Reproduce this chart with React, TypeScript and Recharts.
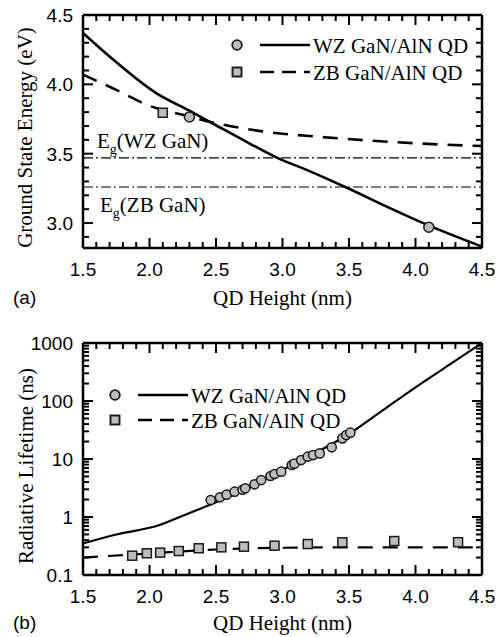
import React from 'react';
import {
  ComposedChart,
  Line,
  Scatter,
  XAxis,
  YAxis,
  ReferenceLine,
  Legend,
} from 'recharts';

// ---------- data ----------
const heightTicks = [1.5, 1.6, 1.7, 1.8, 1.9, 2.0, 2.1, 2.2, 2.3, 2.4, 2.5, 2.6, 2.7, 2.8, 2.9, 3.0, 3.1, 3.2, 3.3, 3.4, 3.5, 3.6, 3.7, 3.8, 3.9, 4.0, 4.1, 4.2, 4.3, 4.4, 4.5];
const heightMajor = [1.5, 2.0, 2.5, 3.0, 3.5, 4.0, 4.5];
const heightDomain = [1.5, 4.5];

const energyTicks = [2.9, 3.0, 3.1, 3.2, 3.3, 3.4, 3.5, 3.6, 3.7, 3.8, 3.9, 4.0, 4.1, 4.2, 4.3, 4.4, 4.5];
const energyMajor = [3.0, 3.5, 4.0, 4.5];
const energyDomain = [2.82, 4.5];

const lifetimeTicks = [0.1, 0.2, 0.3, 0.4, 0.5, 0.6, 0.7, 0.8, 0.9, 1, 2, 3, 4, 5, 6, 7, 8, 9, 10, 20, 30, 40, 50, 60, 70, 80, 90, 100, 200, 300, 400, 500, 600, 700, 800, 900, 1000];
const lifetimeMajor = [0.1, 1, 10, 100, 1000];
const lifetimeDomain = [0.1, 1000];

const wzEnergyH = [1.5, 1.7, 2.05, 2.3, 2.5, 2.75, 2.96, 3.19, 3.48, 3.78, 4.08, 4.5];
const wzEnergyE = [4.37, 4.2, 3.937, 3.81, 3.705, 3.575, 3.47, 3.38, 3.256, 3.12, 2.99, 2.83];
const zbEnergyH = [1.5, 1.75, 2.0, 2.25, 2.5, 2.9, 3.3, 3.66, 4.0, 4.5];
const zbEnergyE = [4.07, 3.96, 3.845, 3.78, 3.72, 3.655, 3.62, 3.594, 3.575, 3.555];
const wzEnergyExpH = [2.3, 4.1];
const wzEnergyExpE = [3.765, 2.97];
const zbEnergyExpH = [2.1];
const zbEnergyExpE = [3.795];
const egWz = 3.47;
const egZb = 3.26;

const wzLifeH = [1.5, 1.75, 2.07, 2.25, 2.5, 2.75, 3.0, 3.25, 3.5, 3.75, 4.0, 4.25, 4.5];
const wzLifeT = [0.35, 0.5, 0.72, 1.05, 1.8, 3.2, 6.5, 12.8, 27, 68, 172, 415, 1000];
const zbLifeH = [1.5, 2.0, 2.5, 3.0, 3.5, 4.0, 4.5];
const zbLifeT = [0.2, 0.235, 0.275, 0.295, 0.3, 0.3, 0.3];
const wzLifeExpH = [2.46, 2.53, 2.58, 2.64, 2.7, 2.72, 2.79, 2.84, 2.91, 2.94, 2.99, 3.07, 3.09, 3.14, 3.19, 3.23, 3.28, 3.37, 3.45, 3.48, 3.51];
const wzLifeExpT = [1.96, 2.19, 2.43, 2.73, 2.95, 3.12, 3.66, 4.34, 5.09, 5.51, 6.04, 7.88, 8.3, 9.6, 10.96, 11.7, 12.5, 15.9, 22.7, 25.9, 28.4];
const zbLifeExpH = [1.87, 1.98, 2.08, 2.22, 2.37, 2.54, 2.71, 2.94, 3.19, 3.45, 3.84, 4.32];
const zbLifeExpT = [0.215, 0.237, 0.243, 0.259, 0.289, 0.3, 0.308, 0.32, 0.342, 0.366, 0.385, 0.368];

const zip = (xs: number[], ys: number[]) => xs.map((x, i) => ({ x, y: ys[i] }));

// ---------- style ----------
const SERIF = '"Liberation Serif", "Times New Roman", serif';
const SANS = '"Liberation Sans", Arial, sans-serif';
const MARKER_FILL = '#bdbdbd';
const MARKER_STROKE = '#1a1a1a';
const TICK = '#000';
const W = 504;
const YW = 60;
const XH = 50;

const isIn = (arr: number[], v: number) => arr.some((m) => Math.abs(m - v) < 1e-6);

function makeXTick(plotTop: number, plotBottom: number) {
  return (props: any) => {
    const { x, payload } = props;
    const v = payload.value;
    const major = isIn(heightMajor, v);
    const len = major ? 10 : 6;
    return (
      <g>
        <line x1={x} x2={x} y1={plotBottom} y2={plotBottom - len} stroke={TICK} strokeWidth={2} />
        <line x1={x} x2={x} y1={plotTop} y2={plotTop + len} stroke={TICK} strokeWidth={2} />
        {major && (
          <text x={x} y={plotBottom + 21} dy="0.36em" textAnchor="middle" fontFamily={SANS} fontSize={19} fill="#000">
            {v.toFixed(1)}
          </text>
        )}
      </g>
    );
  };
}

function makeYTick(plotLeft: number, plotRight: number, majors: number[], fmt: (v: number) => string) {
  return (props: any) => {
    const { y, payload } = props;
    const v = payload.value;
    const major = isIn(majors, v);
    const len = major ? 10 : 6;
    return (
      <g>
        <line x1={plotLeft} x2={plotLeft + len} y1={y} y2={y} stroke={TICK} strokeWidth={2} />
        <line x1={plotRight} x2={plotRight - len} y1={y} y2={y} stroke={TICK} strokeWidth={2} />
        {major && (
          <text x={plotLeft - 10} y={y} dy="0.36em" textAnchor="end" fontFamily={SANS} fontSize={19} fill="#000">
            {fmt(v)}
          </text>
        )}
      </g>
    );
  };
}

const circleShape = (r: number) => (p: any) => (
  <circle cx={p.cx} cy={p.cy} r={r} fill={MARKER_FILL} stroke={MARKER_STROKE} strokeWidth={1.5} />
);
const squareShape = (s: number) => (p: any) => (
  <rect x={p.cx - s / 2} y={p.cy - s / 2} width={s} height={s} fill={MARKER_FILL} stroke={MARKER_STROKE} strokeWidth={1.5} />
);

function LegendBox({ rowGap }: { rowGap: number }) {
  const y1 = 15;
  const y2 = 15 + rowGap;
  return (
    <svg width={260} height={60} style={{ display: 'block', overflow: 'visible' }}>
      <circle cx={9} cy={y1} r={4.8} fill={MARKER_FILL} stroke={MARKER_STROKE} strokeWidth={1.8} />
      <line x1={32} x2={82} y1={y1} y2={y1} stroke="#000" strokeWidth={2.5} />
      <text x={85} y={y1} dy="0.36em" fontFamily={SERIF} fontSize={21} fill="#000">WZ GaN/AlN QD</text>
      <rect x={4.5} y={y2 - 4.5} width={9} height={9} fill={MARKER_FILL} stroke={MARKER_STROKE} strokeWidth={1.9} />
      <line x1={32} x2={82} y1={y2} y2={y2} stroke="#000" strokeWidth={2.5} strokeDasharray="14 8" />
      <text x={85} y={y2} dy="0.36em" fontFamily={SERIF} fontSize={21} fill="#000">ZB GaN/AlN QD</text>
    </svg>
  );
}

const xTitle = (panel: string, dyTitle: number) => (props: any) => {
  const vb = props.viewBox || {};
  const cx = vb.x + vb.width / 2;
  const y = vb.y + dyTitle;
  return (
    <g>
      <text x={cx} y={y} dy="0.36em" textAnchor="middle" fontFamily={SERIF} fontSize={21} fill="#000">QD Height (nm)</text>
      <text x={13} y={y} dy="0.36em" fontFamily={SANS} fontSize={19} fill="#000">{panel}</text>
    </g>
  );
};

const yTitle = (title: string, cxAbs: number, shift: number) => (props: any) => {
  const vb = props.viewBox || {};
  const cy = vb.y + vb.height / 2 + shift;
  return (
    <text x={cxAbs} y={cy} dy="0.36em" textAnchor="middle" fontFamily={SERIF} fontSize={21} fill="#000" transform={`rotate(-90 ${cxAbs} ${cy})`}>
      {title}
    </text>
  );
};

const egLabel = (name: string, dx: number, dy: number) => (props: any) => {
  const vb = props.viewBox || {};
  const x = vb.x + dx;
  const y = vb.y + dy;
  return (
    <text x={x} y={y} fontFamily={SERIF} fontSize={21} fill="#000">
      <tspan>E</tspan>
      <tspan dy={6} fontSize={14}>g</tspan>
      <tspan dy={-6}>{`(${name})`}</tspan>
    </text>
  );
};

const frame = (xd: number[], yd: number[]) => [
  <ReferenceLine key="fl" x={xd[0]} stroke="#000" strokeWidth={2.5} />,
  <ReferenceLine key="fr" x={xd[1]} stroke="#000" strokeWidth={2.5} />,
  <ReferenceLine key="fb" y={yd[0]} stroke="#000" strokeWidth={2.5} />,
  <ReferenceLine key="ft" y={yd[1]} stroke="#000" strokeWidth={2.5} />,
];

function EnergyChart() {
  const H = 320;
  const margin = { top: 15, right: 22, bottom: 22, left: 83 - YW };
  const plotTop = margin.top;
  const plotBottom = H - margin.bottom - XH;
  const plotLeft = margin.left + YW;
  const plotRight = W - margin.right;
  return (
    <ComposedChart width={W} height={H} margin={margin}>
      <XAxis
        type="number"
        dataKey="x"
        domain={heightDomain}
        ticks={heightTicks}
        interval={0}
        allowDataOverflow
        height={XH}
        tickSize={0}
        tickLine={false}
        axisLine={false}
        tick={makeXTick(plotTop, plotBottom)}
        label={xTitle('(a)', 49)}
      />
      <YAxis
        type="number"
        dataKey="y"
        domain={energyDomain}
        ticks={energyTicks}
        interval={0}
        allowDataOverflow
        width={YW}
        tickSize={0}
        tickLine={false}
        axisLine={false}
        tick={makeYTick(plotLeft, plotRight, energyMajor, (v) => v.toFixed(1))}
        label={yTitle('Ground State Energy (eV)', 24, 6)}
      />
      {frame(heightDomain, energyDomain)}
      <ReferenceLine y={egWz} stroke="#000" strokeWidth={1.2} strokeDasharray="10 3 2 3" label={egLabel('WZ GaN', 14, -10)} />
      <ReferenceLine y={egZb} stroke="#000" strokeWidth={1.2} strokeDasharray="10 3 2 3" label={egLabel('ZB GaN', 17, 25)} />
      <Line data={zip(zbEnergyH, zbEnergyE)} dataKey="y" type="monotone" dot={false} stroke="#000" strokeWidth={2.6} strokeDasharray="15 10" isAnimationActive={false} name="ZB" />
      <Line data={zip(wzEnergyH, wzEnergyE)} dataKey="y" type="monotone" dot={false} stroke="#000" strokeWidth={2.6} isAnimationActive={false} name="WZ" />
      <Scatter data={zip(zbEnergyExpH, zbEnergyExpE)} dataKey="y" shape={squareShape(9)} isAnimationActive={false} name="ZB exp" />
      <Scatter data={zip(wzEnergyExpH, wzEnergyExpE)} dataKey="y" shape={circleShape(5)} isAnimationActive={false} name="WZ exp" />
      <Legend
        layout="vertical"
        align="center"
        verticalAlign="middle"
        wrapperStyle={{ left: 228, top: 30, width: 260, height: 60 }}
        content={() => <LegendBox rowGap={27} />}
      />
    </ComposedChart>
  );
}

function LifetimeChart() {
  const H = 317;
  const margin = { top: 23, right: 22, bottom: 12, left: 83 - YW };
  const plotTop = margin.top;
  const plotBottom = H - margin.bottom - XH;
  const plotLeft = margin.left + YW;
  const plotRight = W - margin.right;
  return (
    <ComposedChart width={W} height={H} margin={margin}>
      <XAxis
        type="number"
        dataKey="x"
        domain={heightDomain}
        ticks={heightTicks}
        interval={0}
        allowDataOverflow
        height={XH}
        tickSize={0}
        tickLine={false}
        axisLine={false}
        tick={makeXTick(plotTop, plotBottom)}
        label={xTitle('(b)', 47)}
      />
      <YAxis
        type="number"
        dataKey="y"
        scale="log"
        domain={lifetimeDomain}
        ticks={lifetimeTicks}
        interval={0}
        allowDataOverflow
        width={YW}
        tickSize={0}
        tickLine={false}
        axisLine={false}
        tick={makeYTick(plotLeft, plotRight, lifetimeMajor, (v) => String(v))}
        label={yTitle('Radiative Lifetime (ns)', 25, 7)}
      />
      {frame(heightDomain, lifetimeDomain)}
      <Line data={zip(zbLifeH, zbLifeT)} dataKey="y" type="monotone" dot={false} stroke="#000" strokeWidth={2.2} strokeDasharray="15 10" isAnimationActive={false} name="ZB" />
      <Line data={zip(wzLifeH, wzLifeT)} dataKey="y" type="monotone" dot={false} stroke="#000" strokeWidth={2.2} isAnimationActive={false} name="WZ" />
      <Scatter data={zip(zbLifeExpH, zbLifeExpT)} dataKey="y" shape={squareShape(9)} isAnimationActive={false} name="ZB exp" />
      <Scatter data={zip(wzLifeExpH, wzLifeExpT)} dataKey="y" shape={circleShape(4.6)} isAnimationActive={false} name="WZ exp" />
      <Legend
        layout="vertical"
        align="center"
        verticalAlign="middle"
        wrapperStyle={{ left: 106, top: 60, width: 260, height: 60 }}
        content={() => <LegendBox rowGap={25} />}
      />
    </ComposedChart>
  );
}

export default function App() {
  return (
    <div style={{ position: 'absolute', left: 0, top: 0, width: W, height: 637, background: '#fff' }}>
      <EnergyChart />
      <LifetimeChart />
    </div>
  );
}
